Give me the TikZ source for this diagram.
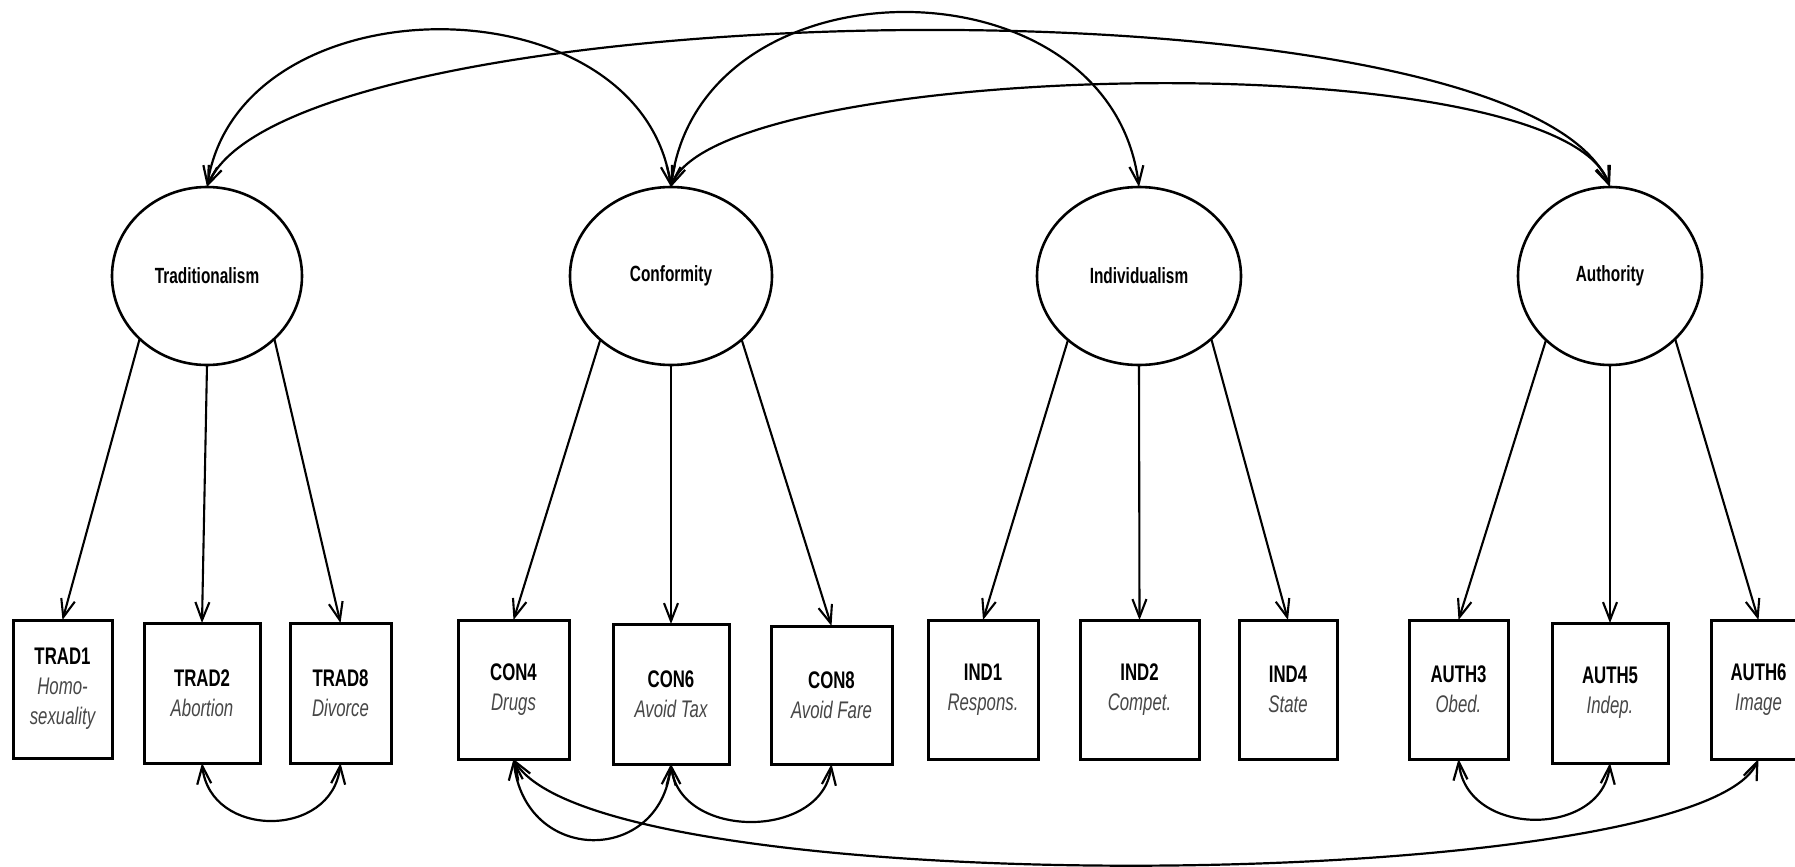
\documentclass[tikz,border=0pt]{standalone}
\usepackage{fontspec}
\setmainfont{Liberation Sans}[FakeStretch=0.7]
\usetikzlibrary{shapes.geometric,arrows.meta}
\newcommand\mydesc[1]{{\itshape\color{black!72}#1}}
\begin{document}
\begin{tikzpicture}[x=0.5pt,y=-0.5pt,
  lat/.style={ellipse, draw, line width=1.3pt, minimum height=89pt, inner sep=0pt, outer sep=0pt,
    font=\fontsize{11}{13}\selectfont\bfseries},
  obs/.style={rectangle, draw, line width=1.5pt, inner sep=0pt, outer sep=0pt, align=center,
    font=\fontsize{12}{15}\selectfont},
  tipb/.tip={Straight Barb[length=9pt,width=7pt]},
  ld/.style={line width=1.05pt, -tipb},
  cov/.style={line width=1.1pt, tipb-tipb},
]
\clip (0,0) rectangle (1795,867);
\fill[white] (0,0) rectangle (1795,867);

% latent variables
\node[lat, minimum width=95pt]  (trad) at (207,276)  {Traditionalism};
\node[lat, minimum width=101pt] (conf) at (671,276)  {Conformity};
\node[lat, minimum width=102pt] (ind)  at (1139,276) {Individualism};
\node[lat, minimum width=92pt]  (auth) at (1610,276) {Authority};

% observed variables
\node[obs, minimum width=49.5pt, minimum height=69pt] (trad1) at (62.5,689)  {\textbf{TRAD1}\\\mydesc{Homo-}\\\mydesc{sexuality}};
\node[obs, minimum width=58pt,   minimum height=70pt] (trad2) at (202,693)   {\textbf{TRAD2}\\\mydesc{Abortion}};
\node[obs, minimum width=50.5pt, minimum height=70pt] (trad8) at (340.5,693) {\textbf{TRAD8}\\\mydesc{Divorce}};
\node[obs, minimum width=55.5pt, minimum height=69.5pt] (con4) at (513.5,689.5) {\textbf{CON4}\\\mydesc{Drugs}};
\node[obs, minimum width=58pt,   minimum height=70pt] (con6) at (671,694)    {\textbf{CON6}\\\mydesc{Avoid Tax}};
\node[obs, minimum width=60.5pt, minimum height=69pt] (con8) at (831.5,695)  {\textbf{CON8}\\\mydesc{Avoid Fare}};
\node[obs, minimum width=55pt,   minimum height=69.5pt] (ind1) at (983,689.5)  {\textbf{IND1}\\\mydesc{Respons.}};
\node[obs, minimum width=59.5pt, minimum height=69.5pt] (ind2) at (1139.5,689.5) {\textbf{IND2}\\\mydesc{Compet.}};
\node[obs, minimum width=49pt,   minimum height=69.5pt] (ind4) at (1288,689.5)  {\textbf{IND4}\\\mydesc{State}};
\node[obs, minimum width=49.5pt, minimum height=69.5pt] (auth3) at (1458.5,689.5) {\textbf{AUTH3}\\\mydesc{Obed.}};
\node[obs, minimum width=58pt,   minimum height=70pt] (auth5) at (1610,693)   {\textbf{AUTH5}\\\mydesc{Indep.}};
\node[obs, minimum width=47.5pt, minimum height=69.5pt] (auth6) at (1758.5,689.5) {\textbf{AUTH6}\\\mydesc{Image}};

% loadings
\draw[ld] (trad.223) -- (trad1.north);
\draw[ld] (trad.270) -- (trad2.north);
\draw[ld] (trad.317) -- (trad8.north);
\draw[ld] (conf.222) -- (con4.north);
\draw[ld] (conf.270) -- (con6.north);
\draw[ld] (conf.318) -- (con8.north);
\draw[ld] (ind.222) -- (ind1.north);
\draw[ld] (ind.270) -- (ind2.north);
\draw[ld] (ind.319) -- (ind4.north);
\draw[ld] (auth.225) -- (auth3.north);
\draw[ld] (auth.270) -- (auth5.north);
\draw[ld] (auth.316) -- (auth6.north);

% latent covariances
\draw[cov] (trad.north) .. controls (240,-22) and (640,-22) .. (conf.north);
\draw[cov] (trad.north) .. controls (290,-10) and (1520,-32) .. (auth.north);
\draw[cov] (conf.north) .. controls (700,-45) and (1110,-45) .. (ind.north);
\draw[cov] (conf.north) .. controls (720,60) and (1560,40) .. (auth.north);

% residual covariances
\draw[cov] (trad2.south) .. controls (210,839) and (332,839) .. (trad8.south);
\draw[cov] (con4.south) .. controls (525,865) and (660,865) .. (con6.south);
\draw[cov] (con6.south) .. controls (680,840) and (822,840) .. (con8.south);
\draw[cov] (auth3.south) .. controls (1466,838) and (1602,838) .. (auth5.south);
\draw[cov] (con4.south) .. controls (600,905) and (1700,895) .. (auth6.south);
\end{tikzpicture}
\end{document}
